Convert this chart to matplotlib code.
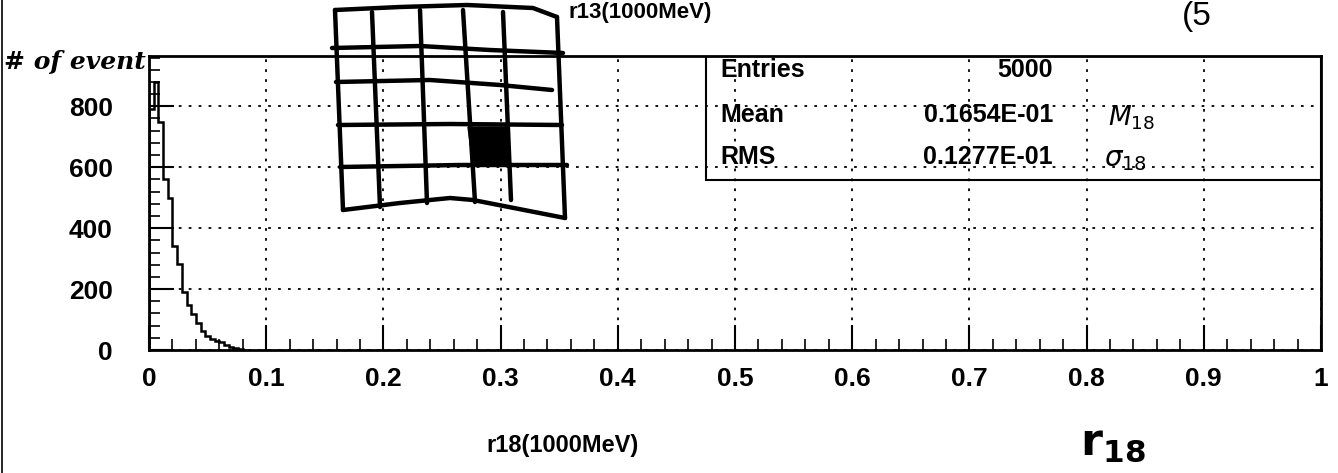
import numpy as np
import matplotlib
matplotlib.use("Agg")
import matplotlib.pyplot as plt
from matplotlib.lines import Line2D
from matplotlib.patches import Polygon, Rectangle
from matplotlib.ticker import MultipleLocator

plt.rcParams["font.family"] = ["Liberation Sans", "DejaVu Sans"]
plt.rcParams["mathtext.fontset"] = "dejavusans"

W, H = 1338, 473

# histogram of r18, bin width 0.004
bin_width = 0.004
counts = [790, 880, 750, 560, 500, 340, 283, 190, 147, 117, 90, 63,
          47, 37, 30, 25, 17, 10, 5, 2]
edges = np.arange(len(counts) + 1) * bin_width

x_ticks = [0, 0.1, 0.2, 0.3, 0.4, 0.5, 0.6, 0.7, 0.8, 0.9, 1]
x_labels = ["0", "0.1", "0.2", "0.3", "0.4", "0.5", "0.6", "0.7", "0.8", "0.9", "1"]
y_ticks = [0, 200, 400, 600, 800]

stat_names = ["Entries", "Mean", "RMS"]
stat_values = ["5000", "0.1654E-01", "0.1277E-01"]


def fx(px):
    return px / W


def fy(py):
    return 1 - py / H


fig = plt.figure(figsize=(W / 100, H / 100), dpi=100)
ax = fig.add_axes([fx(149), fy(350), (1321 - 149) / W, (350 - 56) / H])

ax.stairs(counts, edges, color="black", lw=1.8)
ax.set_xlim(0, 1)
ax.set_ylim(0, 965)

ax.set_xticks(x_ticks)
ax.set_xticklabels(x_labels)
ax.set_yticks(y_ticks)
ax.xaxis.set_minor_locator(MultipleLocator(0.02))
ax.yaxis.set_minor_locator(MultipleLocator(40))
ax.tick_params(which="major", direction="in", length=18, width=1.5,
               labelsize=19, pad=12, top=False, right=False)
ax.tick_params(which="minor", direction="in", length=8, width=1.2,
               top=False, right=False)
for lab in ax.get_xticklabels() + ax.get_yticklabels():
    lab.set_fontweight("bold")
ax.tick_params(axis="y", pad=26)

ax.grid(True, which="major", color="black", linestyle=(0, (1.5, 4)), lw=1.3)
for s in ax.spines.values():
    s.set_linewidth(2)

# stats box
box_left = (706 - 149) / (1321 - 149)
box_bottom = (350 - 180) / (350 - 56)
ax.add_patch(Rectangle((box_left, box_bottom), 1 - box_left, 1 - box_bottom,
                       transform=ax.transAxes, fill=False, lw=1.5,
                       edgecolor="black", zorder=5))
row_y = [70, 115, 157]
for name, val, ry in zip(stat_names, stat_values, row_y):
    fig.text(fx(720), fy(ry), name, fontsize=18, fontweight="bold",
             va="center", ha="left")
    fig.text(fx(1053), fy(ry), val, fontsize=18, fontweight="bold",
             va="center", ha="right")

# titles
fig.text(fx(640), fy(2), "r13(1000MeV)", fontsize=16, fontweight="bold",
         ha="center", va="top")
fig.text(fx(563), fy(445), "r18(1000MeV)", fontsize=17, fontweight="bold",
         ha="center", va="center")

# handwritten notes
fig.text(fx(4), fy(62), "# of event", fontsize=18, fontstyle="italic",
         fontweight="bold", ha="left", va="center", family="DejaVu Serif")
fig.text(fx(1108), fy(118), r"$M_{18}$", fontsize=19, ha="left", va="center")
fig.text(fx(1104), fy(160), r"$\sigma_{18}$", fontsize=20, ha="left", va="center")
fig.text(fx(1080), fy(444), r"$\mathbf{r_{18}}$", fontsize=32, ha="left", va="center")
fig.text(fx(1182), fy(1), "(5", fontsize=24, ha="left", va="top")

# scan edge on the left
fig.add_artist(Line2D([fx(2), fx(2)], [0, 1], color="black", lw=1.2))

# hand-drawn warped grid sketch
sketch_rows = [
    [(335, 10), (400, 7), (467, 5), (533, 8), (557, 17)],
    [(332, 48), (420, 46), (490, 50), (563, 53)],
    [(336, 82), (430, 80), (500, 85), (552, 90)],
    [(338, 125), (450, 124), (562, 125)],
    [(340, 167), (460, 165), (567, 165)],
    [(343, 210), (400, 203), (450, 198), (473, 200), (565, 218)],
]
sketch_cols = [
    [(335, 10), (343, 210)],
    [(372, 12), (380, 207)],
    [(420, 10), (427, 203)],
    [(463, 10), (475, 202)],
    [(503, 12), (511, 200)],
    [(557, 17), (565, 218)],
]
for line in sketch_rows + sketch_cols:
    xs = [fx(p[0]) for p in line]
    ys = [fy(p[1]) for p in line]
    fig.add_artist(Line2D(xs, ys, color="black", lw=3.2,
                          solid_capstyle="round", solid_joinstyle="round"))
shade = [(468, 127), (506, 127), (509, 163), (473, 165)]
fig.add_artist(Polygon([(fx(a), fy(b)) for a, b in shade], closed=True,
                       facecolor="black", edgecolor="black"))

fig.savefig("out.png", dpi=100)
